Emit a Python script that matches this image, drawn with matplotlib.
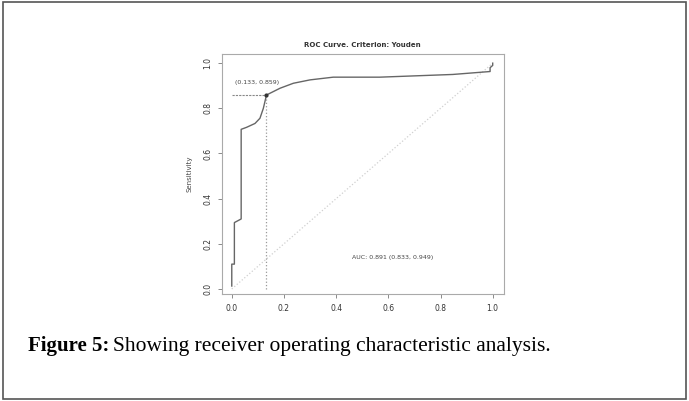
import matplotlib.pyplot as plt
from matplotlib.patches import Rectangle

# ROC curve points (1 - specificity, sensitivity)
fpr = [0.0, 0.0, 0.01, 0.01, 0.036, 0.036, 0.057, 0.089, 0.108, 0.121, 0.133,
       0.185, 0.236, 0.30, 0.389, 0.567, 0.847, 0.99, 0.99, 1.0, 1.0]
tpr = [0.013, 0.11, 0.11, 0.294, 0.31, 0.707, 0.716, 0.733, 0.756, 0.80, 0.859,
       0.889, 0.911, 0.926, 0.938, 0.938, 0.95, 0.963, 0.98, 0.99, 1.0]
cut_x = 0.133
cut_y = 0.859
cut_label = "(0.133, 0.859)"
auc_label = "AUC: 0.891 (0.833, 0.949)"
ticks = [0.0, 0.2, 0.4, 0.6, 0.8, 1.0]
tick_labels = ["0.0", "0.2", "0.4", "0.6", "0.8", "1.0"]

fig = plt.figure(figsize=(6.89, 4.01), dpi=100)

# outer frame of the figure box
fig.patches.append(Rectangle((0.004, 0.006), 0.992, 0.988, transform=fig.transFigure,
                             fill=False, edgecolor='#555555', linewidth=1.2))

ax = fig.add_axes([0.322, 0.267, 0.409, 0.598])
grey = '#777777'

ax.plot([0, 1], [0, 1], color='#d0d0d0', linestyle=':', linewidth=0.9)
ax.plot(fpr, tpr, color='#666666', linewidth=1.0)
ax.plot([0, cut_x], [cut_y, cut_y], color='#888888', linestyle=(0, (2, 1)), linewidth=0.8)
ax.plot([cut_x, cut_x], [0, cut_y], color='#999999', linestyle=':', linewidth=0.9)
ax.plot([cut_x], [cut_y], 'o', color='#333333', markersize=2)

ax.text(0.012, 0.914, cut_label, fontsize=4.5, color='#444444', va='center', ha='left')
ax.text(0.618, 0.14, auc_label, fontsize=4.5, color='#444444', va='center', ha='center')

ax.set_xlim(-0.038, 1.042)
ax.set_ylim(-0.022, 1.04)
ax.set_xticks(ticks)
ax.set_xticklabels(tick_labels)
ax.set_yticks(ticks)
ax.set_yticklabels(tick_labels, rotation=90, va='center')
ax.tick_params(labelsize=5.5, colors='#333333', length=3, width=0.6, color=grey, pad=4)
for s in ax.spines.values():
    s.set_color('#aaaaaa')
    s.set_linewidth(0.8)

ax.set_title("ROC Curve. Criterion: Youden", fontsize=5, fontweight='bold', color='#333333', pad=5)
ax.set_ylabel("Sensitivity", fontsize=5, color='#444444', labelpad=8)

# caption below the chart
fig.text(0.041, 0.137, "Figure 5:", fontsize=15, fontweight='bold', family='Liberation Serif',
         va='center', ha='left')
fig.text(0.164, 0.137, "Showing receiver operating characteristic analysis.", fontsize=15.5,
         family='Liberation Serif', va='center', ha='left')

fig.savefig('out.png', dpi=100)
